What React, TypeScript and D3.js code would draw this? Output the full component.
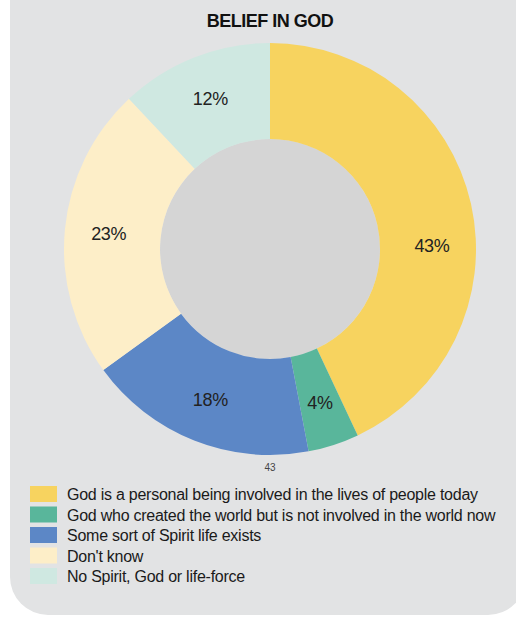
import React from "react";
import * as d3 from "d3";

const categories = [
  "God is a personal being involved in the lives of people today",
  "God who created the world but is not involved in the world now",
  "Some sort of Spirit life exists",
  "Don't know",
  "No Spirit, God or life-force",
];
const values = [43, 4, 18, 23, 12];
const colors = ["#f7d35f", "#59b69b", "#5c87c6", "#fdeec8", "#cfe8e1"];
// label angle adjustment (radians) per slice, as placed in the original
const labelShift = [0.2, 0, 0, 0, 0];
const title = "BELIEF IN GOD";
const centerNote = "43";

const W = 516;
const H = 619;
const cx = 270;
const cy = 249;
const outerR = 206;
const innerR = 110;
const labelR = 162;

export default function App() {
  const pie = d3.pie<number>().sort(null).value((d) => d)(values);
  const arc = d3.arc<d3.PieArcDatum<number>>().innerRadius(innerR).outerRadius(outerR);
  const total = d3.sum(values);
  const font = "'Liberation Sans', Arial, sans-serif";
  return (
    <svg width={W} height={H} style={{ position: "absolute", left: 0, top: 0 }}>
      <rect x={0} y={0} width={W} height={H} fill="#ffffff" />
      <rect x={10} y={-40} width={516} height={655} rx={38} fill="#e2e3e4" />
      <text x={cx} y={27} textAnchor="middle" fontFamily={font} fontWeight="bold" fontSize={18} letterSpacing={-0.5} fill="#111">
        {title}
      </text>
      <g transform={`translate(${cx},${cy})`}>
        <circle r={innerR} fill="#d5d5d5" />
        {pie.map((p, i) => (
          <path key={i} d={arc(p) || ""} fill={colors[i]} />
        ))}
        {pie.map((p, i) => {
          const a = (p.startAngle + p.endAngle) / 2 + labelShift[i];
          const x = labelR * Math.sin(a);
          const y = -labelR * Math.cos(a);
          return (
            <text key={i} x={x} y={y} dy="0.35em" textAnchor="middle" fontFamily={font} fontSize={18} letterSpacing={-0.3} fill="#222">
              {`${Math.round((p.data / total) * 100)}%`}
            </text>
          );
        })}
      </g>
      <text x={cx} y={471} textAnchor="middle" fontFamily={font} fontSize={10} fill="#444">
        {centerNote}
      </text>
      {categories.map((c, i) => (
        <g key={i} transform={`translate(30,${486 + i * 20.5})`}>
          <rect x={0} y={0} width={27} height={16} fill={colors[i]} />
          <text x={37} y={14} fontFamily={font} fontSize={16} letterSpacing={-0.25} fill="#1a1a1a">
            {c}
          </text>
        </g>
      ))}
    </svg>
  );
}
